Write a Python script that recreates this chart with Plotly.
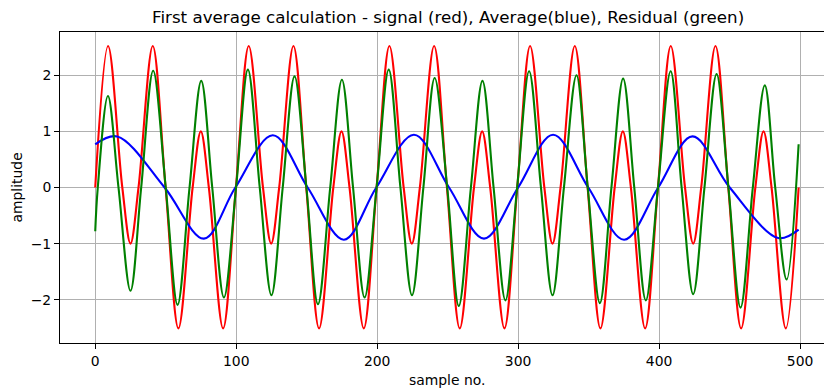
import plotly.graph_objects as go

# Sample positions and amplitudes at the turning points and zero crossings of each trace
signal_x = [0, 9.1, 19.2, 25.0, 30.7, 40.8, 49.9, 59.0, 69.1, 74.9, 80.6, 90.7,
            99.8, 108.9, 119.0, 124.8, 130.5, 140.6, 149.7, 158.8, 168.9, 174.7, 180.4, 190.5,
            199.6, 208.7, 218.8, 224.6, 230.3, 240.4, 249.5, 258.6, 268.7, 274.5, 280.2, 290.3,
            299.4, 308.5, 318.6, 324.4, 330.1, 340.2, 349.3, 358.4, 368.5, 374.3, 380.0, 390.1,
            399.2, 408.3, 418.4, 424.2, 429.9, 440.0, 449.1, 458.2, 468.3, 474.1, 479.8, 489.9,
            499]
signal_y = [0, 2.52, 0, -1.0, 0, 2.52, 0, -2.51, 0, 1.0, 0, -2.51,
            0, 2.52, 0, -1.0, 0, 2.52, 0, -2.51, 0, 1.0, 0, -2.51,
            0, 2.52, 0, -1.0, 0, 2.52, 0, -2.51, 0, 1.0, 0, -2.51,
            0, 2.52, 0, -1.0, 0, 2.52, 0, -2.51, 0, 1.0, 0, -2.51,
            0, 2.52, 0, -1.0, 0, 2.52, 0, -2.51, 0, 1.0, 0, -2.51,
            0]

average_x = [0, 15.6, 49.2, 77.1, 99.4, 126.0, 150.7, 176.4, 199.4, 226.1, 251.0,
             275.8, 300.0, 324.8, 349.8, 375.2, 399.4, 423.7, 450.1, 484.5, 499]
average_y = [0.77, 0.91, 0, -0.91, 0, 0.93, 0, -0.93, 0, 0.94, 0,
             -0.91, 0, 0.94, 0, -0.93, 0, 0.91, 0, -0.90, -0.75]

residual_x = [0, 1.8, 9.0, 16.5, 25.0, 32.6, 41.1, 50.0, 58.4, 66.9, 75.2, 83.0, 91.3,
              99.9, 108.3, 116.7, 125.0, 133.0, 141.4, 149.8, 158.0, 166.7, 175.0, 182.9, 191.1,
              199.6, 208.2, 216.5, 224.7, 232.8, 240.8, 249.7, 257.9, 266.5, 274.7, 282.6, 291.0,
              299.3, 307.8, 316.2, 324.4, 332.5, 341.4, 349.4, 358.0, 366.2, 374.5, 382.4, 390.6,
              399.2, 408.2, 416.0, 424.2, 432.2, 440.8, 449.2, 457.8, 466.5, 475.0, 482.4, 490.5,
              499]
residual_y = [-0.78, 0, 1.63, 0, -1.84, 0, 2.08, 0, -2.09, 0, 1.90, 0, -1.96,
              0, 2.10, 0, -1.92, 0, 1.98, 0, -2.08, 0, 1.92, 0, -1.96,
              0, 2.10, 0, -1.92, 0, 1.95, 0, -2.11, 0, 1.90, 0, -2.01,
              0, 2.07, 0, -1.92, 0, 2.00, 0, -2.06, 0, 1.94, 0, -2.01,
              0, 2.07, 0, -1.90, 0, 2.02, 0, -2.14, 0, 1.82, 0, -1.64,
              0.77]

x_ticks = [0, 100, 200, 300, 400, 500]
y_ticks = [-2, -1, 0, 1, 2]

FONT = "DejaVu Sans"

fig = go.Figure()
fig.add_trace(go.Scatter(x=signal_x, y=signal_y, mode="lines",
                         line=dict(color="#ff0000", width=2.1, shape="spline", smoothing=1.0)))
fig.add_trace(go.Scatter(x=average_x, y=average_y, mode="lines",
                         line=dict(color="#0000ff", width=2.1, shape="spline", smoothing=1.0)))
fig.add_trace(go.Scatter(x=residual_x, y=residual_y, mode="lines",
                         line=dict(color="#008000", width=2.1, shape="spline", smoothing=1.0)))

fig.update_layout(
    width=824, height=391,
    margin=dict(l=60, r=0, t=32, b=48),
    paper_bgcolor="white", plot_bgcolor="white",
    showlegend=False,
    font=dict(family=FONT, size=13.9, color="black"),
    title=dict(text="First average calculation - signal (red), Average(blue), Residual (green)",
               x=0.508, xanchor="center", xref="paper",
               y=1 - 17 / 391, yanchor="middle",
               font=dict(family=FONT, size=16.7, color="black")),
)
fig.update_xaxes(range=[-25.0, 517.0], tickvals=x_ticks, ticks="outside", ticklen=5,
                 tickwidth=1, tickcolor="black", showline=True, linecolor="black",
                 linewidth=1, mirror=True, showgrid=True, gridcolor="#b0b0b0",
                 gridwidth=1, zeroline=False, tickfont=dict(size=13.9))
fig.update_yaxes(range=[-2.77, 2.77], tickvals=y_ticks, ticks="outside", ticklen=5,
                 tickwidth=1, tickcolor="black", showline=True, linecolor="black",
                 linewidth=1, mirror=False, showgrid=True, gridcolor="#b0b0b0",
                 gridwidth=1, zeroline=False, tickfont=dict(size=13.9))

fig.add_annotation(text="sample no.", xref="paper", yref="paper", x=0.5065, y=-0.119,
                   xanchor="center", yanchor="middle", showarrow=False,
                   font=dict(family=FONT, size=13.9, color="black"))
fig.add_annotation(text="amplitude", xref="paper", yref="paper", x=-0.0563, y=0.5,
                   xanchor="center", yanchor="middle", textangle=-90, showarrow=False,
                   font=dict(family=FONT, size=13.9, color="black"))

fig.write_html("out.html")
